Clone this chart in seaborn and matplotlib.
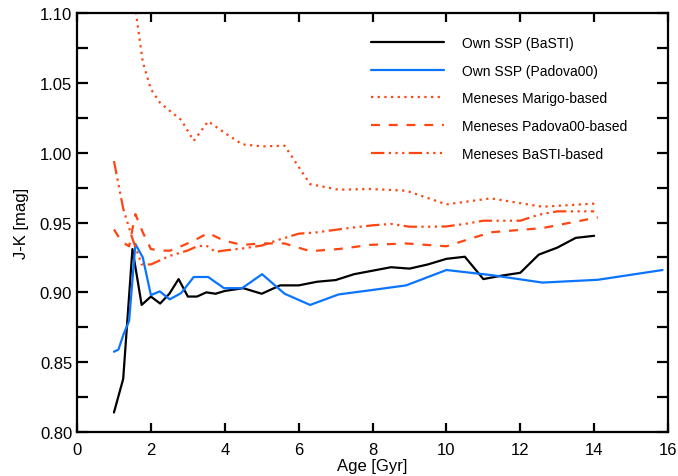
import numpy as np
import pandas as pd
import matplotlib
matplotlib.use("Agg")
import matplotlib.pyplot as plt
from matplotlib.ticker import MultipleLocator, FormatStrFormatter
import seaborn as sns

# BaSTI age grid (Gyr)
age_basti = [1.0, 1.25, 1.5, 1.75, 2.0, 2.25, 2.5, 2.75, 3.0, 3.25, 3.5, 3.75, 4.0,
             4.5, 5.0, 5.5, 6.0, 6.5, 7.0, 7.5, 8.0, 8.5, 9.0, 9.5, 10.0, 10.5,
             11.0, 11.5, 12.0, 12.5, 13.0, 13.5, 14.0]
# Padova age grid (Gyr)
age_padova = [1.0, 1.12, 1.26, 1.41, 1.58, 1.78, 2.0, 2.24, 2.51, 2.82, 3.16, 3.55,
              3.98, 4.47, 5.01, 5.62, 6.31, 7.08, 7.94, 8.91, 10.0, 11.2, 12.6, 14.1]
age_padova_own = age_padova + [15.85]

own_basti = [0.814, 0.838, 0.931, 0.891, 0.897, 0.892, 0.899, 0.9095, 0.897, 0.897,
             0.900, 0.899, 0.901, 0.903, 0.899, 0.905, 0.905, 0.9076, 0.9088, 0.913,
             0.9155, 0.918, 0.917, 0.920, 0.924, 0.9255, 0.9095, 0.912, 0.914, 0.927,
             0.932, 0.939, 0.9405]
own_padova = [0.8575, 0.859, 0.870, 0.8795, 0.9346, 0.925, 0.898, 0.9007, 0.895,
              0.8995, 0.911, 0.911, 0.903, 0.903, 0.913, 0.899, 0.891, 0.8985, 0.9015,
              0.905, 0.916, 0.9124, 0.907, 0.909, 0.916]
meneses_marigo = [1.25, 1.20, 1.16, 1.13, 1.103, 1.065, 1.0455, 1.036, 1.030, 1.0235,
                  1.0085, 1.0225, 1.0145, 1.006, 1.0045, 1.005, 0.9775, 0.9735, 0.974,
                  0.9728, 0.963, 0.9673, 0.9613, 0.9637]
meneses_padova = [0.945, 0.940, 0.9355, 0.933, 0.956, 0.943, 0.931, 0.930, 0.9298,
                  0.933, 0.937, 0.9425, 0.937, 0.934, 0.935, 0.935, 0.9295, 0.931,
                  0.934, 0.935, 0.933, 0.943, 0.946, 0.9537]
meneses_basti = [0.994, 0.96, 0.9385, 0.920, 0.920, 0.923, 0.926, 0.928, 0.930, 0.933,
                 0.9335, 0.929, 0.930, 0.9315, 0.9335, 0.938, 0.942, 0.943, 0.9448,
                 0.9465, 0.948, 0.949, 0.947, 0.947, 0.9472, 0.949, 0.9513, 0.9513,
                 0.9513, 0.9556, 0.958, 0.958, 0.958]

labels = ["Own SSP (BaSTI)", "Own SSP (Padova00)", "Meneses Marigo-based",
          "Meneses Padova00-based", "Meneses BaSTI-based"]

BLUE = "#0a74ff"
RED = "#ff4510"

sns.set_style("ticks")
plt.rcParams["font.family"] = ["Liberation Sans", "DejaVu Sans"]
plt.rcParams.update({
    "axes.edgecolor": "black",
    "axes.labelcolor": "black",
    "text.color": "black",
    "xtick.color": "black",
    "ytick.color": "black",
})

fig = plt.figure(figsize=(6.78, 4.77), dpi=100)
ax = fig.add_axes([0.1136, 0.0922, 0.9853 - 0.1136, 0.9706 - 0.0922])

series = [
    (age_basti, own_basti, "black", None),
    (age_padova_own, own_padova, BLUE, None),
    (age_padova, meneses_marigo, RED, (1, 2)),
    (age_padova, meneses_padova, RED, (4, 4)),
    (age_basti, meneses_basti, RED, (6, 2, 1, 2, 1, 2, 1, 2)),
]

for (x, y, c, dash), lab in zip(series, labels):
    df = pd.DataFrame({"age": x, "jk": y})
    sns.lineplot(data=df, x="age", y="jk", ax=ax, color=c, linewidth=1.6,
                 estimator=None, sort=False, label=lab)
    line = ax.lines[-1]
    if dash is not None:
        line.set_dashes(dash)
        line.set_dash_capstyle("butt")

ax.set_xlim(0, 16)
ax.set_ylim(0.80, 1.10)
ax.xaxis.set_major_locator(MultipleLocator(2))
ax.yaxis.set_major_locator(MultipleLocator(0.05))
ax.yaxis.set_minor_locator(MultipleLocator(0.025))
ax.yaxis.set_major_formatter(FormatStrFormatter("%.2f"))

for s in ax.spines.values():
    s.set_linewidth(1.6)
    s.set_color("black")
    s.set_visible(True)
ax.tick_params(axis="x", which="major", direction="in", top=True, bottom=True,
               length=6.5, width=1.6, labelsize=12, pad=7)
ax.tick_params(axis="y", which="both", direction="in", left=True, right=True,
               length=8, width=1.6, labelsize=12, pad=3.5)

ax.set_xlabel("Age [Gyr]", fontsize=12, labelpad=1)
ax.set_ylabel("J-K [mag]", fontsize=12, labelpad=8)

leg = ax.legend(loc="upper left", bbox_to_anchor=(0.497, 0.945), frameon=False,
                fontsize=10, handlelength=5.3, handletextpad=1.3, labelspacing=0.98,
                borderpad=0, borderaxespad=0)

fig.savefig("out.png", dpi=100)
